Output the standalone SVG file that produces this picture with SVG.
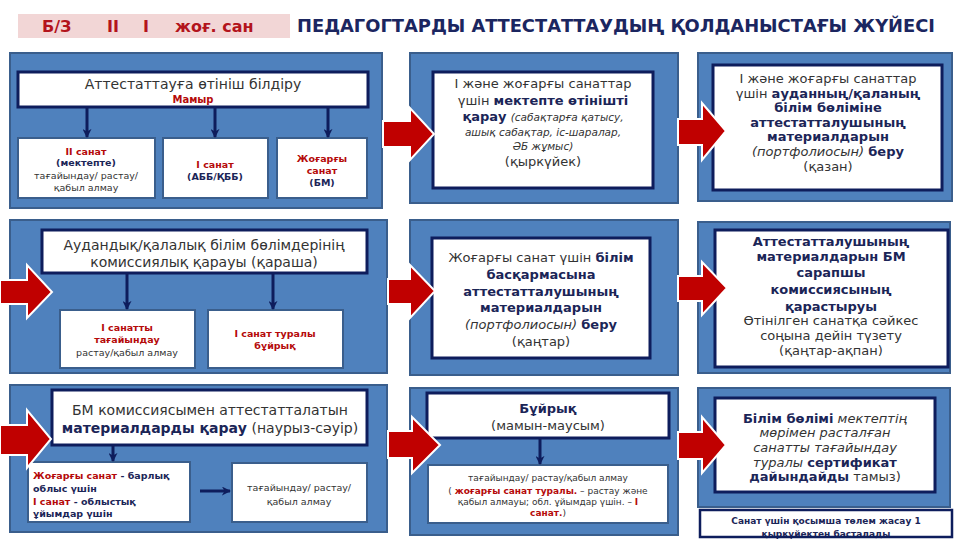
<svg xmlns="http://www.w3.org/2000/svg" width="960" height="540" viewBox="0 0 960 540">
<style>
text{font-family:"DejaVu Sans","Noto Sans",sans-serif;fill:#333;text-anchor:middle}
.panel{fill:#4f81bd;stroke:#3a5e8c;stroke-width:2}
.box{fill:#fff;stroke:#0e1d5c;stroke-width:3}
.sbox{fill:#fff;stroke:#3a5e8c;stroke-width:2}
.m{font-size:13px}
.l{font-size:14px}
.s{font-size:9.5px;font-weight:bold}
.n{font-size:9.5px}
.b{font-weight:bold;fill:#1b2557}
.r{font-weight:bold;fill:#b50a0a}
.i{font-style:italic}
.ra{fill:#c00000;stroke:#fff;stroke-width:2;stroke-linejoin:miter}
.cn{stroke:#0e1d5c;stroke-width:3;fill:none}
</style>
<defs>
<marker id="ah" viewBox="0 0 10 10" refX="9" refY="5" markerWidth="9" markerHeight="9" markerUnits="userSpaceOnUse" orient="auto"><path d="M0,0 L10,5 L0,10 L3,5 z" fill="#0e1d5c"/></marker>
</defs>
<rect width="960" height="540" fill="#fff"/>

<g id="header">
<rect x="18" y="14" width="272" height="24" fill="#f2d6d6"/>
<text x="42" y="32" style="text-anchor:start;font-size:16px;font-weight:bold;fill:#b3141c">Б/З</text>
<text x="107" y="32" style="text-anchor:start;font-size:16px;font-weight:bold;fill:#b3141c">II</text>
<text x="143" y="32" style="text-anchor:start;font-size:16px;font-weight:bold;fill:#b3141c">I</text>
<text x="175" y="32" style="text-anchor:start;font-size:16px;font-weight:bold;fill:#b3141c">жоғ. сан</text>
<text x="297" y="32" textLength="638" lengthAdjust="spacingAndGlyphs" style="text-anchor:start;font-size:17px;font-weight:bold;fill:#1b2660">ПЕДАГОГТАРДЫ АТТЕСТАТТАУДЫҢ ҚОЛДАНЫСТАҒЫ ЖҮЙЕСІ</text>
</g>

<!-- Row 1 -->
<g id="p1">
<rect class="panel" x="10" y="53" width="372" height="155"/>
<rect class="box" x="18" y="72" width="350" height="35"/>
<text class="l" x="193" y="89">Аттестаттауға өтініш білдіру</text>
<text x="193" y="103" style="font-size:10px" class="r">Мамыр</text>
</g>
<g id="p1a">
<rect class="sbox" x="18" y="138" width="137" height="60"/>
<text class="s" x="86" y="155"><tspan class="r">II санат</tspan></text>
<text class="s b" x="86" y="166">(мектепте)</text>
<text class="n" x="86" y="179">тағайындау/ растау/</text>
<text class="n" x="86" y="191">қабыл алмау</text>
</g>
<g id="p1b">
<rect class="sbox" x="163" y="138" width="105" height="60"/>
<text class="s r" x="215" y="168">I санат</text>
<text class="s b" x="215" y="180">(АББ/ҚББ)</text>
</g>
<g id="p1c">
<rect class="sbox" x="277" y="138" width="90" height="60"/>
<text class="s r" x="322" y="162">Жоғарғы</text>
<text class="s r" x="322" y="174">санат</text>
<text class="s b" x="322" y="186">(БМ)</text>
</g>

<g id="p2">
<rect class="panel" x="410" y="53" width="268" height="150"/>
<rect class="box" x="433" y="72" width="220" height="116"/>
<text class="m" x="543" y="88">I және жоғарғы санаттар</text>
<text class="m" x="543" y="105">үшін <tspan class="b">мектепте өтінішті</tspan></text>
<text class="m" x="543" y="121"><tspan class="b">қарау</tspan> <tspan class="i" style="font-size:10.5px">(сабақтарға қатысу,</tspan></text>
<text class="i" x="543" y="136" style="font-size:10.5px">ашық сабақтар, іс-шаралар,</text>
<text class="i" x="543" y="150" style="font-size:10.5px">ӘБ жұмыс)</text>
<text class="m" x="543" y="166">(қыркүйек)</text>
</g>

<g id="p3">
<rect class="panel" x="698" y="53" width="254" height="148"/>
<rect class="box" x="713" y="65" width="229" height="125"/>
<text class="m" x="828" y="83">I және жоғарғы санаттар</text>
<text class="m" x="828" y="98">үшін <tspan class="b">ауданның/қаланың</tspan></text>
<text class="m b" x="828" y="112">білім бөліміне</text>
<text class="m b" x="828" y="127">аттестатталушының</text>
<text class="m b" x="828" y="141">материалдарын</text>
<text class="m" x="828" y="156"><tspan class="i">(портфолиосын)</tspan> <tspan class="b">беру</tspan></text>
<text class="m" x="828" y="171">(қазан)</text>
</g>

<!-- Row 2 -->
<g id="p4">
<rect class="panel" x="10" y="220" width="377" height="153"/>
<rect class="box" x="42" y="230" width="325" height="43"/>
<text class="l" x="204" y="250">Аудандық/қалалық білім бөлімдерінің</text>
<text class="l" x="204" y="267">комиссиялық қарауы (қараша)</text>
</g>
<g id="p4a">
<rect class="sbox" x="60" y="310" width="135" height="58"/>
<text class="s r" x="127" y="331">I санатты</text>
<text class="s r" x="127" y="343">тағайындау</text>
<text class="n" x="127" y="356">растау/қабыл алмау</text>
</g>
<g id="p4b">
<rect class="sbox" x="208" y="310" width="135" height="58"/>
<text class="s r" x="275" y="337">I санат туралы</text>
<text class="s r" x="275" y="349">бұйрық</text>
</g>

<g id="p5">
<rect class="panel" x="410" y="220" width="268" height="155"/>
<rect class="box" x="432" y="238" width="218" height="120"/>
<text class="m" x="541" y="262">Жоғарғы санат үшін <tspan class="b">білім</tspan></text>
<text class="m b" x="541" y="279">басқармасына</text>
<text class="m b" x="541" y="296">аттестатталушының</text>
<text class="m b" x="541" y="312">материалдарын</text>
<text class="m" x="541" y="329"><tspan class="i">(портфолиосын)</tspan> <tspan class="b">беру</tspan></text>
<text class="m" x="541" y="346">(қаңтар)</text>
</g>

<g id="p6">
<rect class="panel" x="698" y="222" width="252" height="151"/>
<rect class="box" x="715" y="230" width="233" height="137"/>
<text class="m b" x="831" y="246">Аттестатталушының</text>
<text class="m b" x="831" y="261">материалдарын БМ</text>
<text class="m b" x="831" y="277">сарапшы</text>
<text class="m b" x="831" y="294">комиссиясының</text>
<text class="m b" x="831" y="311">қарастыруы</text>
<text class="m" x="831" y="325">Өтінілген санатқа сәйкес</text>
<text class="m" x="831" y="340">соңына дейін түзету</text>
<text class="m" x="831" y="355">(қаңтар-ақпан)</text>
</g>

<!-- Row 3 -->
<g id="p7">
<rect class="panel" x="10" y="385" width="377" height="147"/>
<rect class="box" x="52" y="390" width="315" height="55"/>
<text class="l" x="210" y="415">БМ комиссиясымен аттестатталатын</text>
<text class="l" x="210" y="433"><tspan class="b">материалдарды қарау</tspan> (наурыз-сәуір)</text>
</g>
<g id="p7a">
<rect class="sbox" x="28" y="462" width="162" height="60"/>
<text class="s b" x="33" y="479" style="text-anchor:start"><tspan class="r">Жоғарғы санат</tspan>  - барлық</text>
<text class="s b" x="33" y="492" style="text-anchor:start">облыс үшін</text>
<text class="s b" x="33" y="505" style="text-anchor:start"><tspan class="r">I санат</tspan> - облыстық</text>
<text class="s b" x="33" y="517" style="text-anchor:start">ұйымдар үшін</text>
</g>
<g id="p7b">
<rect class="sbox" x="232" y="463" width="135" height="59"/>
<text class="n" x="299" y="491">тағайындау/ растау/</text>
<text class="n" x="299" y="505">қабыл алмау</text>
</g>

<g id="p8">
<rect class="panel" x="410" y="388" width="268" height="147"/>
<rect class="box" x="427" y="393" width="242" height="45"/>
<text class="m b" x="548" y="413">Бұйрық</text>
<text class="m" x="548" y="430">(мамын-маусым)</text>
</g>
<g id="p8a">
<rect class="sbox" x="428" y="465" width="240" height="58"/>
<text x="548" y="481" style="font-size:9px">тағайындау/ растау/қабыл алмау</text>
<text x="548" y="494" style="font-size:9px">( <tspan class="r">жоғарғы санат туралы.</tspan>  – растау және</text>
<text x="548" y="505" style="font-size:9px">қабыл алмауы; обл. ұйымдар үшін. – <tspan class="r">I</tspan></text>
<text x="548" y="516" style="font-size:9px"><tspan class="r">санат.</tspan>)</text>
</g>

<g id="p9">
<rect class="panel" x="698" y="388" width="252" height="119"/>
<rect class="box" x="715" y="398" width="220" height="94"/>
<text class="m" x="825" y="423"><tspan class="b">Білім бөлімі</tspan>  <tspan class="i">мектептің</tspan></text>
<text class="m i" x="825" y="437">мөрімен расталған</text>
<text class="m i" x="825" y="452">санатты тағайындау</text>
<text class="m" x="825" y="467"><tspan class="i">туралы</tspan> <tspan class="b">сертификат</tspan></text>
<text class="m" x="825" y="481"><tspan class="b">дайындайды</tspan> тамыз)</text>
</g>

<g id="note">
<rect x="700" y="510" width="252" height="27" fill="#fff"/>
<text x="826" y="524" style="font-size:9px" class="b">Санат үшін қосымша төлем жасау 1</text>
<text x="826" y="537" style="font-size:9px" class="b">қыркүйектен басталады</text>
<rect x="700" y="510" width="252" height="27" fill="none" stroke="#0e1d5c" stroke-width="2.5"/>
</g>

<g id="connectors">
<line class="cn" x1="87" y1="107" x2="87" y2="137" marker-end="url(#ah)"/>
<line class="cn" x1="215" y1="107" x2="215" y2="137" marker-end="url(#ah)"/>
<line class="cn" x1="328" y1="107" x2="328" y2="137" marker-end="url(#ah)"/>
<line class="cn" x1="127" y1="273" x2="127" y2="309" marker-end="url(#ah)"/>
<line class="cn" x1="273" y1="273" x2="273" y2="309" marker-end="url(#ah)"/>
<line class="cn" x1="113" y1="445" x2="113" y2="461" marker-end="url(#ah)"/>
<line class="cn" x1="200" y1="491" x2="230" y2="491" marker-end="url(#ah)"/>
<line class="cn" x1="540" y1="438" x2="540" y2="464" marker-end="url(#ah)"/>
<polygon class="ra" points="383,121 410,121 410,108 434,134 410,160 410,147 383,147"/>
<polygon class="ra" points="678,119 702,119 702,103 726,131 702,160 702,145 678,145"/>
<polygon class="ra" points="0,280 27,280 27,265 52,292 27,318 27,304 0,304"/>
<polygon class="ra" points="388,279 410,279 410,265 435,291 410,318 410,304 388,304"/>
<polygon class="ra" points="678,276 702,276 702,262 727,288 702,315 702,301 678,301"/>
<polygon class="ra" points="0,425 27,425 27,410 51,439 27,468 27,455 0,455"/>
<polygon class="ra" points="388,431 412,431 412,417 440,445 412,473 412,458 388,458"/>
<polygon class="ra" points="678,432 702,432 702,417 726,445 702,473 702,459 678,459"/>
</g>
</svg>
